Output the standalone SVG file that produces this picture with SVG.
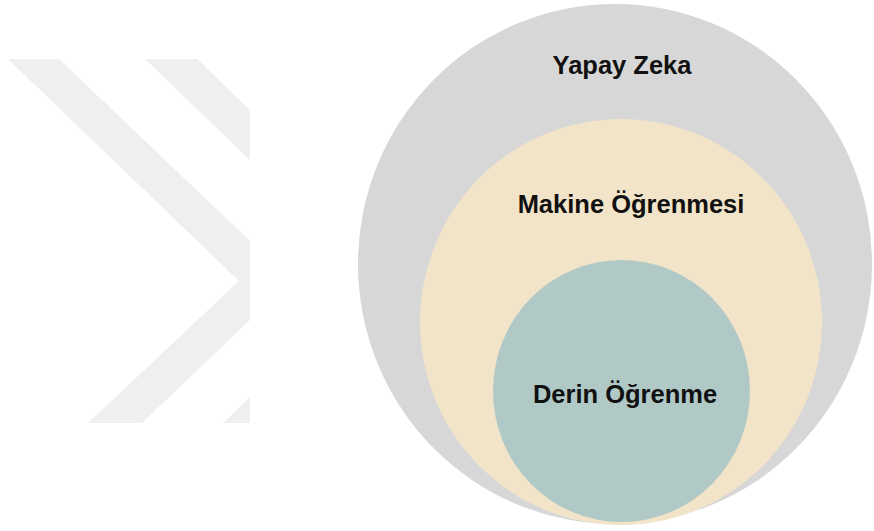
<svg xmlns="http://www.w3.org/2000/svg" width="874" height="531" viewBox="0 0 874 531">
  <style>
    .wm { fill: #efefef; }
    .lbl { font-family: "Liberation Sans", Arial, sans-serif; font-weight: bold; font-size: 25.5px; fill: #111111; text-anchor: middle; }
  </style>
  <rect x="0" y="0" width="874" height="531" fill="#ffffff"/>
  <g id="watermark">
    <polygon class="wm" points="8,59 59,59 250,241 250,320 142,423 88,423 239,281"/>
    <polygon class="wm" points="145,59 197,59 250,110 250,160"/>
    <polygon class="wm" points="223,423 250,397 250,423"/>
  </g>
  <g id="yapay-zeka">
    <ellipse cx="615" cy="264" rx="257" ry="260" fill="#d7d7d7"/>
    <text class="lbl" x="622" y="74">Yapay Zeka</text>
  </g>
  <g id="makine-ogrenmesi">
    <ellipse cx="621" cy="322" rx="201" ry="203" fill="#f1e4c8"/>
    <text class="lbl" x="631" y="213">Makine Öğrenmesi</text>
  </g>
  <g id="derin-ogrenme">
    <ellipse cx="621.5" cy="391" rx="128.5" ry="131" fill="#b1c9c6"/>
    <text class="lbl" x="625" y="403">Derin Öğrenme</text>
  </g>
  <g id="connectors"/>
</svg>
